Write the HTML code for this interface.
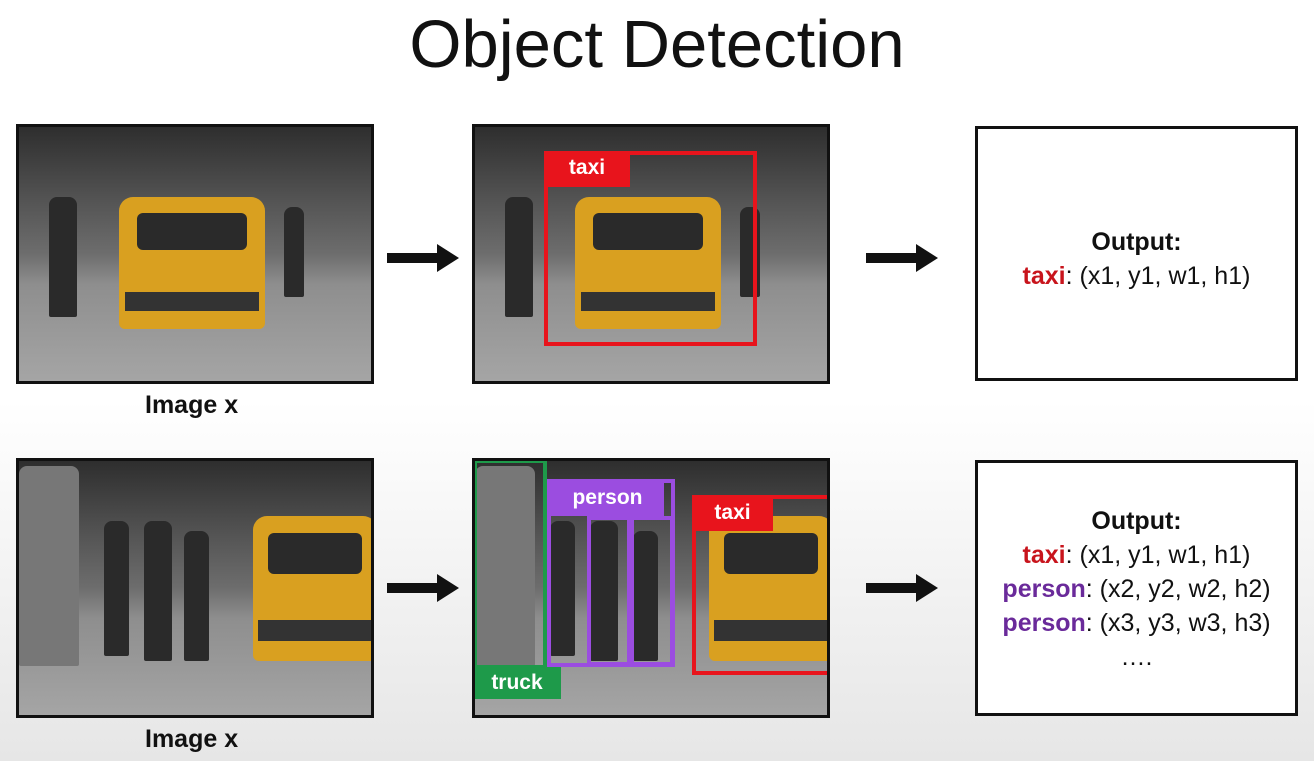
<!DOCTYPE html>
<html><head><meta charset="utf-8"><style>
body{margin:0;width:1314px;height:761px;overflow:hidden;background:linear-gradient(#fff 0,#fff 400px,#e6e6e6 761px);font-family:"Liberation Sans",sans-serif;position:relative}
.a{position:absolute}
.img{position:absolute;border:3px solid #111;box-sizing:border-box;overflow:hidden;background:linear-gradient(#2e2e2e 0%,#555 30%,#6d6d6d 50%,#8e8e8e 62%,#a5a5a5 100%)}
.taxi{position:absolute;background:#d9a020;border-radius:14px 14px 6px 6px}
.taxi .w{position:absolute;left:12%;right:12%;top:12%;height:28%;background:#2a2a2a;border-radius:6px}
.taxi .b{position:absolute;left:4%;right:4%;bottom:14%;height:14%;background:#333}
.p{position:absolute;background:#2a2a2a;border-radius:8px 8px 2px 2px}
.out{position:absolute;border:3px solid #111;box-sizing:border-box;background:#fff;text-align:center;font-size:25px;color:#111;line-height:34px}
.arrow{position:absolute;height:10px;background:#111}
.arrow:after{content:"";position:absolute;right:-20px;top:-9px;border-left:22px solid #111;border-top:14px solid transparent;border-bottom:14px solid transparent}
.box{position:absolute;box-sizing:border-box;border:4px solid}
.lab{position:absolute;color:#fff;font-weight:bold;font-size:21px;text-align:center}
.cap{position:absolute;font-size:25px;font-weight:bold;color:#111}
</style></head><body>
<div class="a" style="left:0;width:1314px;top:6px;text-align:center;font-size:67px;color:#111">Object Detection</div>

<div class="img" style="left:16px;top:124px;width:358px;height:260px">
<div class="p" style="left:30px;top:70px;width:28px;height:120px"></div>
<div class="p" style="left:265px;top:80px;width:20px;height:90px"></div>
<div class="taxi" style="left:100px;top:70px;width:146px;height:132px"><div class="w"></div><div class="b"></div></div></div>
<div class="img" style="left:472px;top:124px;width:358px;height:260px">
<div class="p" style="left:30px;top:70px;width:28px;height:120px"></div>
<div class="p" style="left:265px;top:80px;width:20px;height:90px"></div>
<div class="taxi" style="left:100px;top:70px;width:146px;height:132px"><div class="w"></div><div class="b"></div></div>
<div class="box" style="left:69px;top:24px;width:213px;height:195px;border-color:#e8141c"></div>
<div class="lab" style="left:69px;top:24px;width:86px;height:36px;line-height:34px;background:#e8141c">taxi</div></div>
<div class="arrow" style="left:387px;top:253px;width:52px"></div>
<div class="arrow" style="left:866px;top:253px;width:52px"></div>
<div class="out" style="left:975px;top:126px;width:323px;height:255px;padding-top:96px"><b>Output:</b><br><b style="color:#c8141c">taxi</b>: (x1, y1, w1, h1)</div>
<div class="cap" style="left:145px;top:391px">Image x</div>

<div class="img" style="left:16px;top:458px;width:358px;height:260px">
<div class="p" style="left:0;top:5px;width:60px;height:200px;background:#777"></div>
<div class="p" style="left:85px;top:60px;width:25px;height:135px"></div>
<div class="p" style="left:125px;top:60px;width:28px;height:140px"></div>
<div class="p" style="left:165px;top:70px;width:25px;height:130px"></div>
<div class="taxi" style="left:234px;top:55px;width:124px;height:145px"><div class="w"></div><div class="b"></div></div></div>
<div class="img" style="left:472px;top:458px;width:358px;height:260px">
<div class="p" style="left:0;top:5px;width:60px;height:200px;background:#777"></div>
<div class="p" style="left:75px;top:60px;width:25px;height:135px"></div>
<div class="p" style="left:115px;top:60px;width:28px;height:140px"></div>
<div class="p" style="left:158px;top:70px;width:25px;height:130px"></div>
<div class="taxi" style="left:234px;top:55px;width:124px;height:145px"><div class="w"></div><div class="b"></div></div>
<div class="box" style="left:-2px;top:-2px;width:74px;height:210px;border-color:#1e9a4a"></div>
<div class="lab" style="left:-2px;top:206px;width:88px;height:32px;line-height:32px;background:#1e9a4a">truck</div>
<div class="box" style="left:72px;top:18px;width:128px;height:188px;border-color:#9b4de0"></div>
<div class="box" style="left:112px;top:55px;width:44px;height:150px;border-color:#9b4de0"></div>
<div class="box" style="left:155px;top:55px;width:44px;height:150px;border-color:#9b4de0"></div>
<div class="lab" style="left:76px;top:19px;width:113px;height:36px;line-height:36px;background:#9b4de0">person</div>
<div class="box" style="left:217px;top:34px;width:140px;height:180px;border-color:#e8141c"></div>
<div class="lab" style="left:217px;top:34px;width:81px;height:36px;line-height:36px;background:#e8141c">taxi</div></div>
<div class="arrow" style="left:387px;top:583px;width:52px"></div>
<div class="arrow" style="left:866px;top:583px;width:52px"></div>
<div class="out" style="left:975px;top:460px;width:323px;height:256px;padding-top:41px"><b>Output:</b><br><b style="color:#c8141c">taxi</b>: (x1, y1, w1, h1)<br><b style="color:#6a2a9a">person</b>: (x2, y2, w2, h2)<br><b style="color:#6a2a9a">person</b>: (x3, y3, w3, h3)<br>….</div>
<div class="cap" style="left:145px;top:725px">Image x</div>
</body></html>
